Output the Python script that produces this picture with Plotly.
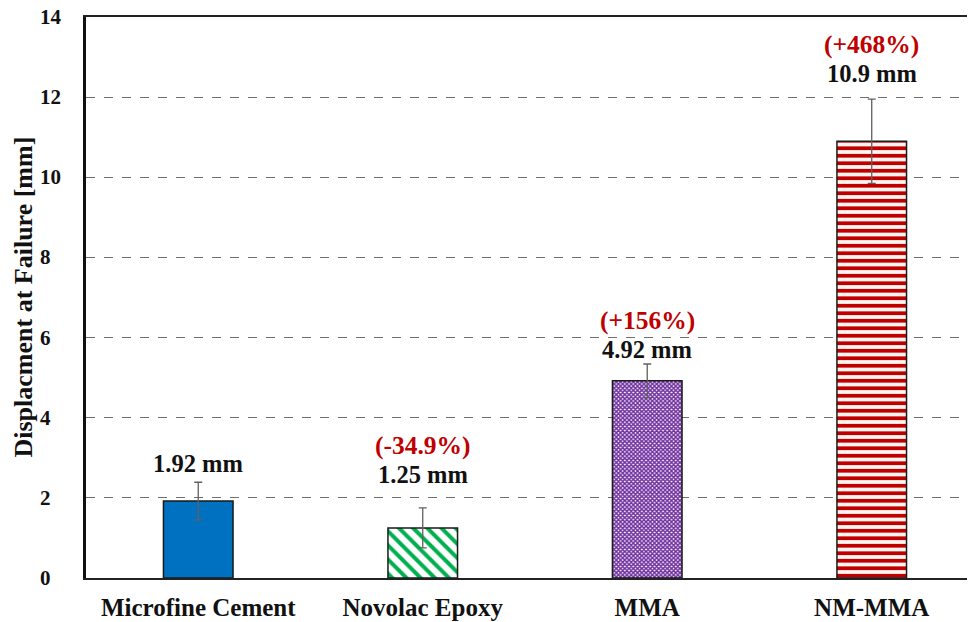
import plotly.graph_objects as go

categories = ["Microfine Cement", "Novolac Epoxy", "MMA", "NM-MMA"]
values = [1.92, 1.25, 4.92, 10.9]
errors = [0.47, 0.50, 0.42, 1.05]
value_labels = ["1.92 mm", "1.25 mm", "4.92 mm", "10.9 mm"]
pct_labels = ["", "(-34.9%)", "(+156%)", "(+468%)"]
y_ticks = [0, 2, 4, 6, 8, 10, 12, 14]
y_title = "Displacment at Failure [mm]"

FONT = "Liberation Serif"
fills = ["#0070C0", "#00B050", "#7030A0", "#C00000"]
shapes_ = ["", "\\", "x", "-"]
label_shift = [19, 33, 15, 26]  # px above error-bar top (label centre)
pct_gap = 29

fig = go.Figure()
for i, c in enumerate(categories):
    pat = dict(shape=shapes_[i])
    if shapes_[i] == "\\":
        pat.update(fgcolor=fills[i], bgcolor="white", size=10, solidity=0.4, fillmode="replace")
    elif shapes_[i] == "x":
        pat.update(fgcolor=fills[i], bgcolor="white", size=3, solidity=0.75, fillmode="replace")
    elif shapes_[i] == "-":
        pat.update(fgcolor=fills[i], bgcolor="#FFF5F0", size=7.5, solidity=0.5, fillmode="replace")
    fig.add_trace(go.Bar(
        x=[c], y=[values[i]],
        marker=dict(color=fills[i] if shapes_[i] == "" else "white",
                    line=dict(color="#1a1a1a", width=1.5), pattern=pat),
        width=0.31,
        error_y=dict(type="data", array=[errors[i]], visible=True,
                     color="#606060", thickness=1.3, width=4),
        showlegend=False,
    ))

ann = []
for i, c in enumerate(categories):
    top = values[i] + errors[i]
    ann.append(dict(x=c, y=top, xref="x", yref="y", text=value_labels[i],
                    showarrow=False, yshift=label_shift[i], yanchor="middle",
                    font=dict(family=FONT, size=24.5, color="#111111", weight="bold")))
    if pct_labels[i]:
        ann.append(dict(x=c, y=top, xref="x", yref="y", text=pct_labels[i],
                        showarrow=False, yshift=label_shift[i] + pct_gap, yanchor="middle",
                        font=dict(family=FONT, size=25.5, color="#C00000", weight="bold")))
# y tick labels (left-aligned, as in the reference)
for t in y_ticks:
    ann.append(dict(x=0, y=t, xref="paper", yref="y", text=str(t), showarrow=False,
                    xanchor="left", yanchor="middle", xshift=-48,
                    font=dict(family=FONT, size=21, color="#111111", weight="bold")))
ann.append(dict(x=0, y=0.5, xref="paper", yref="paper", text=y_title, showarrow=False,
                textangle=-90, xanchor="center", yanchor="middle", xshift=-63,
                font=dict(family=FONT, size=26, color="#111111", weight="bold")))

fig.update_layout(
    width=967, height=614,
    margin=dict(l=78, r=0, t=9, b=44),
    plot_bgcolor="white", paper_bgcolor="white",
    annotations=ann,
    xaxis=dict(range=[-0.5, 3.46], showline=True, linecolor="#222222", linewidth=2,
               mirror=True, ticks="", showgrid=False, automargin=False,
               ticklabelstandoff=6,
               tickfont=dict(family=FONT, size=25, color="#111111", weight="bold")),
    yaxis=dict(range=[0, 14], tickvals=y_ticks, showline=True, linecolor="#111111",
               linewidth=2.5, showgrid=True, gridcolor="#707070", griddash="dash",
               gridwidth=1, zeroline=False, ticks="", showticklabels=False,
               automargin=False),
)
fig.write_html("out.html")
